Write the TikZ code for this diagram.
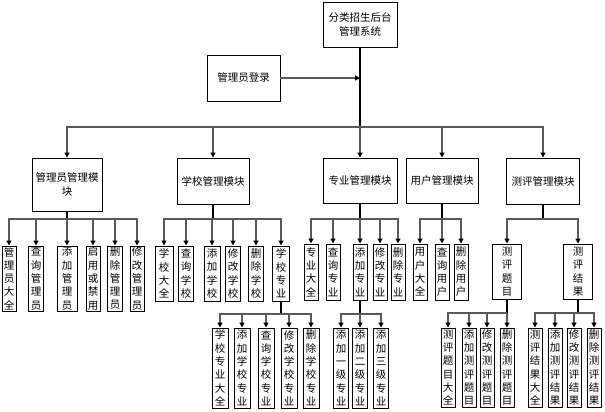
\documentclass[tikz,border=0pt]{standalone}
\usepackage{fontspec}
\newfontfamily\cjk{Noto Sans CJK SC}
\usetikzlibrary{arrows.meta}
\begin{document}
\begin{tikzpicture}[x=1pt,y=-1pt,
  box/.style={draw=black,line width=0.9pt,fill=white,inner sep=0pt,align=center,
    font=\cjk\fontsize{10.5}{14}\selectfont},
  leaf/.style={draw=black,line width=1pt,fill=white,inner sep=0pt,align=center,
    font=\cjk\fontsize{10.5}{13.3}\selectfont},
  trunk/.style={draw=black,line width=1.5pt},
  arr/.style={draw=black!65,line width=1.3pt,
    -{Triangle[length=5pt,width=5pt,color=black]}}]
\useasboundingbox (0,0) rectangle (605,412);

% top level
\node[box,minimum width=74pt,minimum height=45pt] (top) at (360,24.5) {分类招生后台\\管理系统};
\node[box,minimum width=73pt,minimum height=46pt] (login) at (243.5,78) {管理员登录};

% modules
\node[box,minimum width=70pt,minimum height=53pt] (m1) at (67,184.5) {管理员管理模\\块};
\node[box,minimum width=72pt,minimum height=46pt] (m2) at (213,181) {学校管理模块};
\node[box,minimum width=74pt,minimum height=45pt] (m3) at (360,180.5) {专业管理模块};
\node[box,minimum width=72pt,minimum height=45pt] (m4) at (442,180.5) {用户管理模块};
\node[box,minimum width=73pt,minimum height=46pt] (m5) at (543,181) {测评管理模块};

% admin children
\begin{scope}[every node/.style={leaf,minimum height=65pt}]
\node[minimum width=14pt] (a1) at (9,278.5) {管\\理\\员\\大\\全};
\node[minimum width=15pt] (a2) at (36,278.5) {查\\询\\管\\理\\员};
\node[minimum width=20pt] (a3) at (67,278.5) {添\\加\\管\\理\\员};
\node[minimum width=14pt] (a4) at (93,278.5) {启\\用\\或\\禁\\用};
\node[minimum width=15pt] (a5) at (115,278.5) {删\\除\\管\\理\\员};
\node[minimum width=14pt] (a6) at (137,278.5) {修\\改\\管\\理\\员};
\end{scope}

% school children
\begin{scope}[every node/.style={leaf,minimum height=55pt}]
\node[minimum width=18pt] (b1) at (164,273.5) {学\\校\\大\\全};
\node[minimum width=15pt] (b2) at (186,273.5) {查\\询\\学\\校};
\node[minimum width=16pt] (b3) at (212,273.5) {添\\加\\学\\校};
\node[minimum width=15pt] (b4) at (233,273.5) {修\\改\\学\\校};
\node[minimum width=15pt] (b5) at (256,273.5) {删\\除\\学\\校};
\node[minimum width=17pt] (b6) at (281,273.5) {学\\校\\专\\业};
\end{scope}

% school major children
\begin{scope}[every node/.style={leaf,minimum height=80pt,minimum width=16pt}]
\node (c1) at (220,368) {学\\校\\专\\业\\大\\全};
\node (c2) at (242,368) {添\\加\\学\\校\\专\\业};
\node (c3) at (266,368) {查\\询\\学\\校\\专\\业};
\node (c4) at (289,368) {修\\改\\学\\校\\专\\业};
\node (c5) at (311,368) {删\\除\\学\\校\\专\\业};
\end{scope}

% major children
\begin{scope}[every node/.style={leaf,minimum height=56pt,minimum width=14pt}]
\node (d1) at (311,272) {专\\业\\大\\全};
\node (d2) at (333,272) {查\\询\\专\\业};
\node (d3) at (360,272) {添\\加\\专\\业};
\node (d4) at (380,272) {修\\改\\专\\业};
\node (d5) at (398,272) {删\\除\\专\\业};
\end{scope}

% add major children
\begin{scope}[every node/.style={leaf,minimum height=80pt,minimum width=15pt}]
\node (e1) at (341,368) {添\\加\\一\\级\\专\\业};
\node (e2) at (360,368) {添\\加\\二\\级\\专\\业};
\node (e3) at (381,368) {添\\加\\三\\级\\专\\业};
\end{scope}

% user children
\begin{scope}[every node/.style={leaf,minimum height=56pt,minimum width=14pt}]
\node (f1) at (420,272) {用\\户\\大\\全};
\node (f2) at (442,272) {查\\询\\用\\户};
\node (f3) at (461,272) {删\\除\\用\\户};
\end{scope}

% evaluation children
\node[leaf,minimum width=29pt,minimum height=55pt] (g1) at (507,271.5) {测\\评\\题\\目};
\node[leaf,minimum width=29pt,minimum height=55pt] (g2) at (578,271.5) {测\\评\\结\\果};

\begin{scope}[every node/.style={leaf,minimum height=79pt,minimum width=14pt}]
\node (h1) at (448,367.5) {测\\评\\题\\目\\大\\全};
\node (h2) at (469,367.5) {添\\加\\测\\评\\题\\目};
\node (h3) at (487,367.5) {修\\改\\测\\评\\题\\目};
\node (h4) at (507,367.5) {删\\除\\测\\评\\题\\目};
\node (i1) at (535,367.5) {测\\评\\结\\果\\大\\全};
\node (i2) at (555,367.5) {添\\加\\测\\评\\结\\果};
\node (i3) at (574,367.5) {修\\改\\测\\评\\结\\果};
\node (i4) at (594,367.5) {删\\除\\测\\评\\结\\果};
\end{scope}

% junctions
\coordinate (j0) at (360,127);
\coordinate (j1) at (67,219);
\coordinate (j2) at (213,219);
\coordinate (j3) at (360,219);
\coordinate (j4) at (442,219);
\coordinate (j5) at (543,219);
\coordinate (jb) at (281,314);
\coordinate (jd) at (360,314);
\coordinate (jg1) at (507,313);
\coordinate (jg2) at (578,313);

% connectors
\draw[trunk] (top.south) -- (j0);
\draw[arr] (login.east) -- (login.east -| top.south);
\foreach \n in {m1,m2,m3,m4,m5} \draw[arr] (j0) -| (\n.north);

\draw[trunk] (m1.south) -- (j1);
\foreach \n in {a1,a2,a3,a4,a5,a6} \draw[arr] (j1) -| (\n.north);
\draw[trunk] (m2.south) -- (j2);
\foreach \n in {b1,b2,b3,b4,b5,b6} \draw[arr] (j2) -| (\n.north);
\draw[trunk] (b6.south) -- (jb);
\foreach \n in {c1,c2,c3,c4,c5} \draw[arr] (jb) -| (\n.north);
\draw[trunk] (m3.south) -- (j3);
\foreach \n in {d1,d2,d3,d4,d5} \draw[arr] (j3) -| (\n.north);
\draw[trunk] (d3.south) -- (jd);
\foreach \n in {e1,e2,e3} \draw[arr] (jd) -| (\n.north);
\draw[trunk] (m4.south) -- (j4);
\foreach \n in {f1,f2,f3} \draw[arr] (j4) -| (\n.north);
\draw[trunk] (m5.south) -- (j5);
\foreach \n in {g1,g2} \draw[arr] (j5) -| (\n.north);
\draw[trunk] (g1.south) -- (jg1);
\foreach \n in {h1,h2,h3,h4} \draw[arr] (jg1) -| (\n.north);
\draw[trunk] (g2.south) -- (jg2);
\foreach \n in {i1,i2,i3,i4} \draw[arr] (jg2) -| (\n.north);
\end{tikzpicture}
\end{document}
